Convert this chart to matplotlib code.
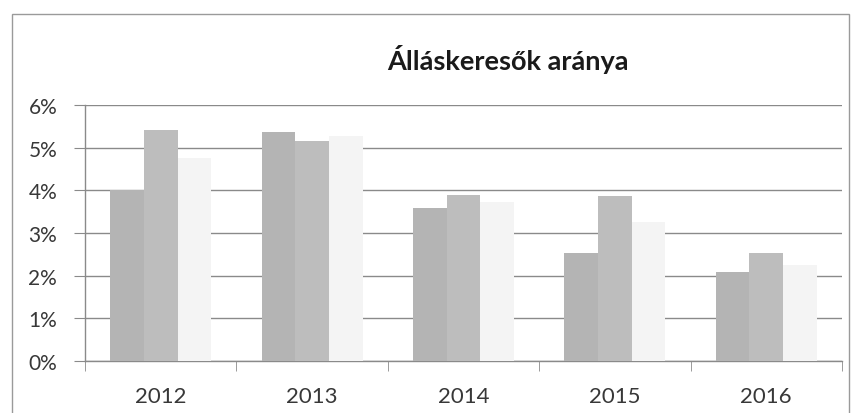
import matplotlib
matplotlib.use("Agg")
import matplotlib.pyplot as plt
from matplotlib.patches import Rectangle
from matplotlib.ticker import FuncFormatter
import numpy as np

years = ["2012", "2013", "2014", "2015", "2016"]
series_a = [4.00, 5.36, 3.59, 2.52, 2.08]
series_b = [5.41, 5.16, 3.89, 3.87, 2.53]
series_c = [4.75, 5.27, 3.72, 3.25, 2.24]
colors = ["#b4b4b4", "#bdbdbd", "#f4f4f4"]
title = "Álláskeresők aránya"

plt.rcParams['font.family'] = ['Lato', 'DejaVu Sans']

fig = plt.figure(figsize=(8.53, 4.14), dpi=100)
W, H = 853, 414
ax = fig.add_axes([85 / W, 1 - 362 / H, (842 - 85) / W, (362 - 106) / H])

x = np.arange(len(years))
w = 0.222
for i, (vals, c) in enumerate(zip([series_a, series_b, series_c], colors)):
    ax.bar(x + (i - 1) * w, vals, width=w, color=c, zorder=3, linewidth=0)

ax.set_xlim(-0.5, len(years) - 0.5)
ax.set_ylim(0, 6)
ax.set_yticks(range(0, 7))
ax.yaxis.set_major_formatter(FuncFormatter(lambda v, p: f"{int(v)}%"))
ax.grid(axis='y', color='#8a8a8a', linewidth=1.0, zorder=0)
ax.set_axisbelow(True)

ax.set_xticks(x)
ax.set_xticklabels(years)
ax.set_xticks(np.arange(-0.5, len(years)), minor=True)
ax.tick_params(axis='x', which='major', length=0, pad=18, labelsize=16, labelcolor='#383838')
ax.tick_params(axis='x', which='minor', length=7, color='#8a8a8a', direction='out')
ax.tick_params(axis='y', length=8, color='#8a8a8a', labelsize=15, labelcolor='#383838', pad=12)

for s in ['top', 'right']:
    ax.spines[s].set_visible(False)
for s in ['left', 'bottom']:
    ax.spines[s].set_color('#8a8a8a')
    ax.spines[s].set_linewidth(1.0)

fig.text(508 / W, 1 - 59 / H, title, ha='center', va='center',
         fontsize=19.5, fontweight='bold', color='#1a1a1a')

fig.patches.append(Rectangle((12 / W, -0.05), (849 - 12) / W, 1 - 15 / H + 0.05,
                             transform=fig.transFigure, fill=False,
                             edgecolor='#9a9a9a', linewidth=1.0))

fig.savefig("out.png", dpi=100)
